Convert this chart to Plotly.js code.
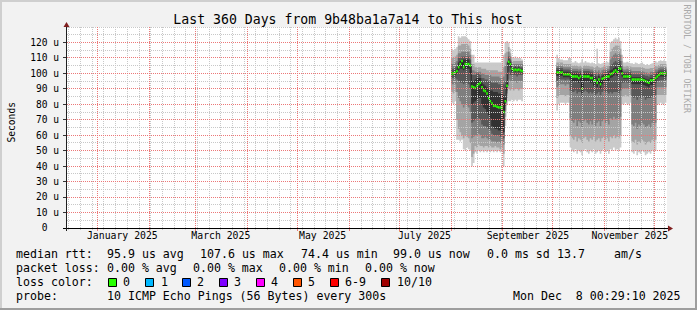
<!DOCTYPE html>
<html><head><meta charset="utf-8">
<script src="https://cdn.plot.ly/plotly-3.0.1.min.js"></script>
<style>html,body{margin:0;padding:0;background:#f2f2f2;}#chart{width:697px;height:310px;}</style>
</head><body><div id="chart"></div>
<script>
// ---------- data (microseconds), daily consolidated smoke ----------
const startA = '2025-08-01';   // segment A: 44 days
const startB = '2025-10-03';   // segment B: 67 days

const medA = [100,100,100.5,101.5,104,106,108,104,106,106,106,105,91.5,91,90.5,92,93,94,91,89,88.5,87,84,82,80.5,79,79,78.5,78,78,78,75,82,92,107.5,106,103,102,102.5,102,102.5,102,101.5,101];
const a1 = [81,80,82,57,57,56,57,51,50,52,51,50,40,42,49,48,50,49,50,49,50,49,50,49,50,49,50,49,50,49,50,40,66,80,82,82,83,82,83,82,83,83,82,83];
const a2 = [88,87,88,70,64,62,60,58,60,59,58,55,46,48,53,52,54,53,53,52,53,53,52,53,52,52,53,52,52,51,52,48,72,84,90,89,90,89,90,90,89,90,90,90];
const a3 = [93,93,93,88,84,82,80,78,80,79,78,75,58,59,60,60,61,60,58,58,59,58,57,57,56,56,56,55,56,55,56,54,76,87,96,95,95,95,95,94,95,95,95,95];
const a4 = [97,97,97,96,95,94,94,93,94,94,93,90,68,69,70,71,71,70,67,66,66,65,64,63,61,60,60,60,60,59,60,58,79,89,101,99,99,99,99,98,99,99,99,99];
const a5 = [99,99,99,100,102,103,103,102,103,103,103,100,80,81,82,83,84,84,80,78,77,75,73,71,66,65,64,64,63,63,64,62,81,91,106,104,101,101,101,101,101,101,100.5,100];
const a6 = [101,101,102,103,107,108,109,109,109,109,109,106,95,95,96,97,97,97,94,93,92,91,90,89,89,88,88,88,87,87,87,86,84,94,109,107.5,103.5,103,104,103,104,103,103,103];
const a7 = [103,103,104,105,110,110,111,111,111,111,111,109,99,99,99,100,100,99,97,97,96,96,95,95,94,94,94,94,93,93,93,93,95,100,111,109,104.5,104,105,104,105,104,104,104];
const a8 = [106,106,107,108,113,113,114,114,114,114,114,112,102,102,101,101,101,101,100,100,99,99,99,99,98,98,98,98,98,97,97,98,105,107,114,111,106,106,106,106,106,106,106,106];
const a9 = [110,110,111,112,118,118,119,119,119,119,118,116,106,106,104,104,104,104,103,103,103,102,102,102,102,102,102,102,101,101,101,104,113,114,117,113,108,108,108,108,108,108,108,108];
const a10 = [116,115,116,117,124,123,124,124,124,123,122,121,112,112,107,107,107,107,107,107,107,107,107,107,107,107,107,107,107,107,107,112,120,121,120,116,110,110,111,110,110,110,109,110];

const medB = [100.5,100.5,100.5,100.5,99.5,99.5,99.5,99.5, 99,98,98,98,98,97,98,90,98,98,98,98,97,97,95,95.5,94,96,93,96.5,97,97.5,98,98, 99.5,100,101,102,101,103.5,103, 100,98,98,98,98,98, 96,96,96,96,96,96,96,95.5,95,94.5,94,95.5,95.5,96,97, 98,99,100,100,100,100,100];
const b1 = [76,80,81,81,81,80,81,81, 52,50,49,51,48,50,49,47,50,51,49,48,50,49,51,48,49,50,48,50,51,49,50,48, 51,50,52,50,51,50,52, 80,80,81,80,80,81, 49,48,50,47,49,48,50,49,47,48,49,48,50,49,50, 80,80,81,80,80,81,80];
const b2 = [84,85,86,86,86,85,86,86, 60,58,57,59,56,58,57,55,58,59,57,56,58,57,59,56,57,58,56,58,59,57,58,56, 59,58,60,58,59,58,60, 85,85,86,85,85,86, 56,55,57,54,56,55,57,56,54,55,56,55,57,56,57, 86,86,86,86,86,86,86];
const b3 = [91,92,93,93,93,92,93,93, 71,69,68,70,66,69,68,65,69,70,68,67,69,67,70,66,68,69,66,69,70,68,69,67, 71,70,72,70,71,70,72, 90,90,90.5,90,90,90.5, 67,66,68,64,67,66,68,67,65,66,67,65,68,67,68, 91,91,91,91,91,91,91];
const b4 = [95,96,96,96,96,95.5,96,96, 89,88,88,89,87,88,88,84,88,89,88,87,88,87,88,86,87,88,86,88,89,88,88,87, 88,87,88,88,88,87,89, 94,94,94.5,94,94,94.5, 85,84,85,83,85,84,85,85,83,84,84,84,85,85,86, 95,95,95.5,95.5,95.5,95.5,95.5];
const b5 = [98.5,98.5,98.5,98.5,97.5,97.5,97.5,97.5, 96,95,95,95,95,94,95,87,95,95,95,95,94,94,92,93,91,93,90,93,94,95,95,95, 97,97.5,98.5,99.5,98.5,101,100.5, 98,96.5,96.5,96.5,96.5,96.5, 93,93,93,93,93,93,93,92.5,92,91.5,91,92.5,92.5,93,94, 96.5,97.5,98,98,98,98,98];
const b6 = [102,102,102,102,101,101,101,101, 100.5,100,100,100,100,99.5,100,93,100,100,100,100,99.5,99.5,97.5,98,96.5,98.5,95.5,98.5,99,99.5,100,100, 102,102.5,103.5,104.5,103.5,106,105.5, 101.5,99.5,99.5,99.5,99.5,99.5, 97.5,97.5,97.5,97.5,97.5,97.5,97.5,97,96.5,96,96,97,97,97.5,98.5, 99.5,100.5,101,101,101,101,101];
const b7 = [103.5,103.5,103.5,103.5,102.5,102.5,102.5,102.5, 102,101.5,101.5,101.5,101.5,101,101.5,96,101.5,101.5,101.5,101.5,101,101,99.5,100,98.5,100,98,100,100.5,101,101.5,101.5, 105,106,107,108,107,109,108, 103,101,101,101,101,101, 99.5,99.5,99.5,99.5,99.5,99.5,99.5,99,98.5,98.5,98,99,99,99.5,100.5, 101,102,102.5,102.5,102.5,102.5,102.5];
const b8 = [105,105,105,105,104,104,104,104, 104,103,103,103,103,102.5,103,100,103,103,103,103,102.5,102.5,101.5,102,101,102,100.5,102,102.5,102.5,103,103, 109,111,112,113,112,113,112, 105,102.5,102.5,103,102.5,102.5, 101.5,101.5,101.5,101.5,101.5,101.5,101.5,101,100.5,100.5,100,101,101,101.5,102.5, 102.5,103.5,104,104,104,104,104];
const b9 = [107,107,107,107,106,106,106,106, 106,105,105,105.5,105,104.5,105,104,105,105.5,105,105,104.5,104.5,104,104,105,104,103.5,104,104.5,104.5,105,105, 114,116,117,118,118,118,116, 108,104.5,104.5,105,104.5,104.5, 104,104,104,104,104,104,104,103.5,103,103,103,103.5,103.5,104,105, 104.5,105.5,106,106,106,106,106];
const b10 = [112,110,109,109,108.5,108.5,108.5,110, 110,107,107,108,107,106.5,107,109,107,108,107,107,106.5,107,106.5,106,116,106.5,106,106.5,107,107,107.5,107, 120,121,122,123,122,123,121, 112,107,107,107.5,107,106.5, 106.5,106,107,106.5,106,106.5,107,106,105.5,106,105.5,106,106.5,107,108, 107,108,108.5,108,108.5,108,108];

const yTickVals = [0,10,20,30,40,50,60,70,80,90,100,110,120];
const yTickText = ['0\u00a0\u00a0','10 u','20 u','30 u','40 u','50 u','60 u','70 u','80 u','90 u','100 u','110 u','120 u'];
const xLabelVals = ['2025-01-16','2025-03-16','2025-05-16','2025-07-16','2025-09-16','2025-11-16'];
const xLabelText = ['January 2025','March 2025','May 2025','July 2025','September 2025','November 2025'];
const lossLabels = ['0','1','2','3','4','5','6-9','10/10'];
const lossColors = ['#26ff00','#00b8ff','#0059ff','#7e00ff','#ff00ff','#ff5500','#ff0000','#a00000'];

// ---------- helpers ----------
const X0 = '2024-12-13 20:00', X1 = '2025-12-08 08:00';
const Y1 = 130;
const tStart = Date.parse('2024-12-13T20:00:00Z'), tEnd = Date.parse('2025-12-08T08:00:00Z');
const L = 67, T = 27, PW = 600, PH = 201;
const px2x = px => (px - L) / PW;
const py2y = py => (T + PH - py) / PH;
const fmt = ms => new Date(ms).toISOString().replace('T', ' ').replace('Z', '');
// snap grid positions onto pixel centres so 1px lines are crisp
const snapT = ms => { const px = L + (ms - tStart) / (tEnd - tStart) * PW; const s = Math.floor(px) + 0.5; return fmt(tStart + (s - L) / PW * (tEnd - tStart)); };
const snapV = v => { const py = T + (Y1 - v) / Y1 * PH; const s = Math.floor(py) + 0.5; return Y1 - (s - T) / PH * Y1; };
function dates(start, n) {
  const t0 = Date.parse(start + 'T00:00:00Z');
  return Array.from({length: n}, (_, i) => new Date(t0 + i * 864e5).toISOString().slice(0, 10));
}
const SMOKE = ['#cacaca', '#a4a4a4', '#7e7e7e', '#585858', '#323232'];
function smoke(x, p) {
  const tr = [];
  for (let k = 0; k < 5; k++) {
    tr.push({x, y: p[k], type: 'scatter', mode: 'lines', line: {width: 0, color: 'rgba(0,0,0,0)', shape: 'hv'}, hoverinfo: 'skip', showlegend: false});
    tr.push({x, y: p[9 - k], type: 'scatter', mode: 'lines', line: {width: 0, color: 'rgba(0,0,0,0)', shape: 'hv'}, fill: 'tonexty', fillcolor: SMOKE[k], hoverinfo: 'skip', showlegend: false});
  }
  return tr;
}
function median(x, m) {
  const gx = [], gy = [];
  for (let i = 0; i < m.length - 1; i++) { gx.push(x[i], x[i + 1], null); gy.push(m[i], m[i], null); }
  return [
    {x, y: m, type: 'scatter', mode: 'lines', line: {color: '#202020', width: 1, shape: 'hv'}, hoverinfo: 'skip', showlegend: false},
    {x: gx, y: gy, type: 'scatter', mode: 'lines', line: {color: lossColors[0], width: 2.5}, connectgaps: false, hoverinfo: 'skip', showlegend: false}
  ];
}
const xA = dates(startA, medA.length), xB = dates(startB, medB.length);
const data = [].concat(
  smoke(xA, [a1,a2,a3,a4,a5,a6,a7,a8,a9,a10]),
  smoke(xB, [b1,b2,b3,b4,b5,b6,b7,b8,b9,b10]),
  median(xA, medA), median(xB, medB)
);

// ---------- grid, axes, frame as shapes ----------
const GRID = 'rgb(200,200,200)', MGRID = 'rgb(236,120,120)';
const shapes = [];
const monthStarts = [];
for (let mo = 0; mo < 12; mo++) monthStarts.push(Date.UTC(2025, mo, 1));
for (let t = Date.UTC(2024, 11, 15); t < Date.UTC(2025, 11, 8); t += 7 * 864e5) {
  if (monthStarts.includes(t)) continue;
  const d = snapT(t);
  shapes.push({type: 'line', xref: 'x', yref: 'paper', x0: d, x1: d, y0: 0, y1: 1, line: {color: GRID, width: 1, dash: '1px,1px'}});
  shapes.push({type: 'line', xref: 'x', yref: 'paper', x0: d, x1: d, y0: py2y(228), y1: py2y(230), line: {color: GRID, width: 1}});
}
for (let v = 5; v <= 130; v += 5) {
  const major = v % 10 === 0 && v <= 120;
  const vv = snapV(v);
  shapes.push({type: 'line', xref: 'paper', yref: 'y', x0: 0, x1: 1, y0: vv, y1: vv, line: {color: major ? MGRID : GRID, width: 1, dash: '1px,1px'}});
}
monthStarts.forEach(t => {
  const d = snapT(t);
  shapes.push({type: 'line', xref: 'x', yref: 'paper', x0: d, x1: d, y0: 0, y1: 1, line: {color: MGRID, width: 1, dash: '1px,1px'}});
  shapes.push({type: 'line', xref: 'x', yref: 'paper', x0: d, x1: d, y0: py2y(228), y1: py2y(231), line: {color: MGRID, width: 1}});
});
// axis lines and arrows
shapes.push({type: 'line', xref: 'paper', yref: 'paper', x0: px2x(63), x1: px2x(669), y0: py2y(228.5), y1: py2y(228.5), line: {color: '#000', width: 1}});
shapes.push({type: 'line', xref: 'paper', yref: 'paper', x0: px2x(66.5), x1: px2x(66.5), y0: py2y(231), y1: py2y(24), line: {color: '#1f1f1f', width: 1}});
shapes.push({type: 'path', xref: 'paper', yref: 'paper', path: `M${px2x(668)},${py2y(225.5)} L${px2x(673)},${py2y(228.5)} L${px2x(668)},${py2y(231.5)} Z`, fillcolor: '#801f1f', line: {width: 0}});
shapes.push({type: 'path', xref: 'paper', yref: 'paper', path: `M${px2x(63.5)},${py2y(27)} L${px2x(66.5)},${py2y(22)} L${px2x(69.5)},${py2y(27)} Z`, fillcolor: '#801f1f', line: {width: 0}});
// frame
const rectPx = (x0, y0, x1, y1, c) => ({type: 'rect', xref: 'paper', yref: 'paper', x0: px2x(x0), x1: px2x(x1), y0: py2y(y1), y1: py2y(y0), fillcolor: c, line: {width: 0}});
shapes.push(rectPx(0, 0, 697, 2, '#cfcfcf'), rectPx(0, 0, 2, 310, '#cfcfcf'), rectPx(0, 308, 697, 310, '#9e9e9e'), rectPx(695, 0, 697, 310, '#9e9e9e'));
// loss colour boxes
const boxX = [108.5, 145.5, 182.5, 219.5, 256.5, 293.5, 330.5, 381.5];
boxX.forEach((bx, i) => shapes.push({type: 'rect', xref: 'paper', yref: 'paper', x0: px2x(bx), x1: px2x(bx + 8), y0: py2y(286.5), y1: py2y(278.5), fillcolor: lossColors[i], line: {color: '#000', width: 1}}));

// ---------- text ----------
const LF = {family: 'DejaVu Sans Mono', size: 11.6, color: '#000'};
const ann = (px, py, text, extra) => Object.assign({xref: 'paper', yref: 'paper', x: px2x(px), y: py2y(py), text, showarrow: false, xanchor: 'left', yanchor: 'middle', borderpad: 0, borderwidth: 0, font: LF}, extra || {});
const legendItems = [
  [16, 254.3, 'median rtt:'], [107, 254.3, '95.9 us avg'], [200.3, 254.3, '107.6 us max'], [300.7, 254.3, '74.4 us min'], [393.3, 254.3, '99.0 us now'], [486.7, 254.3, '0.0 ms sd'], [556.7, 254.3, '13.7'], [614.3, 254.3, 'am/s'],
  [16, 268.3, 'packet loss:'], [107.3, 268.3, '0.00 % avg'], [193.3, 268.3, '0.00 % max'], [279.3, 268.3, '0.00 % min'], [365, 268.3, '0.00 % now'],
  [16, 282.3, 'loss color:'],
  [16, 296, 'probe:'], [107.3, 296, '10 ICMP Echo Pings (56 Bytes) every 300s'], [512.7, 296, 'Mon Dec\u00a0\u00a08 00:29:10 2025']
];
const lossTextX = [123.3, 160.7, 197, 234.3, 271, 308, 345.3, 396.7];
const annotations = legendItems.map(([x, y, t]) => ann(x, y, t));
lossTextX.forEach((x, i) => annotations.push(ann(x, 282.3, lossLabels[i])));
annotations.push(ann(10.5, 123, 'Seconds', {xanchor: 'center', textangle: -90, font: {family: 'DejaVu Sans Mono', size: 9.6, color: '#000'}}));
annotations.push(ann(687.4, 59, 'RRDTOOL / TOBI OETIKER', {xanchor: 'center', textangle: 90, font: {family: 'DejaVu Sans Mono', size: 8.2, color: '#aaaaaa'}}));

const layout = {
  width: 697, height: 310,
  margin: {l: L, r: 697 - L - PW, t: T, b: 310 - T - PH, pad: 0},
  paper_bgcolor: '#f2f2f2', plot_bgcolor: '#ffffff',
  font: {family: 'DejaVu Sans Mono', size: 9.8, color: '#000'},
  showlegend: false,
  title: {text: 'Last 360 Days from 9b48ba1a7a14 to This host', xref: 'container', yref: 'container', x: 348 / 697, y: 1 - 19 / 310, xanchor: 'center', yanchor: 'middle', font: {family: 'DejaVu Sans Mono', size: 13.2, color: '#000'}},
  xaxis: {type: 'date', range: [X0, X1], showgrid: false, zeroline: false, showline: false, tickmode: 'array', tickvals: xLabelVals, ticktext: xLabelText, ticks: '', tickfont: {family: 'DejaVu Sans Mono', size: 9.8, color: '#000'}, fixedrange: true},
  yaxis: {range: [0, Y1], showgrid: false, zeroline: false, showline: false, tickmode: 'array', tickvals: yTickVals, ticktext: yTickText, ticks: 'outside', ticklen: 3, tickcolor: '#333', tickwidth: 1, ticklabelstandoff: 2, tickfont: {family: 'DejaVu Sans Mono', size: 9.6, color: '#000'}, fixedrange: true},
  shapes, annotations
};
Plotly.newPlot('chart', data, layout, {staticPlot: true, displayModeBar: false});
</script>
</body></html>
